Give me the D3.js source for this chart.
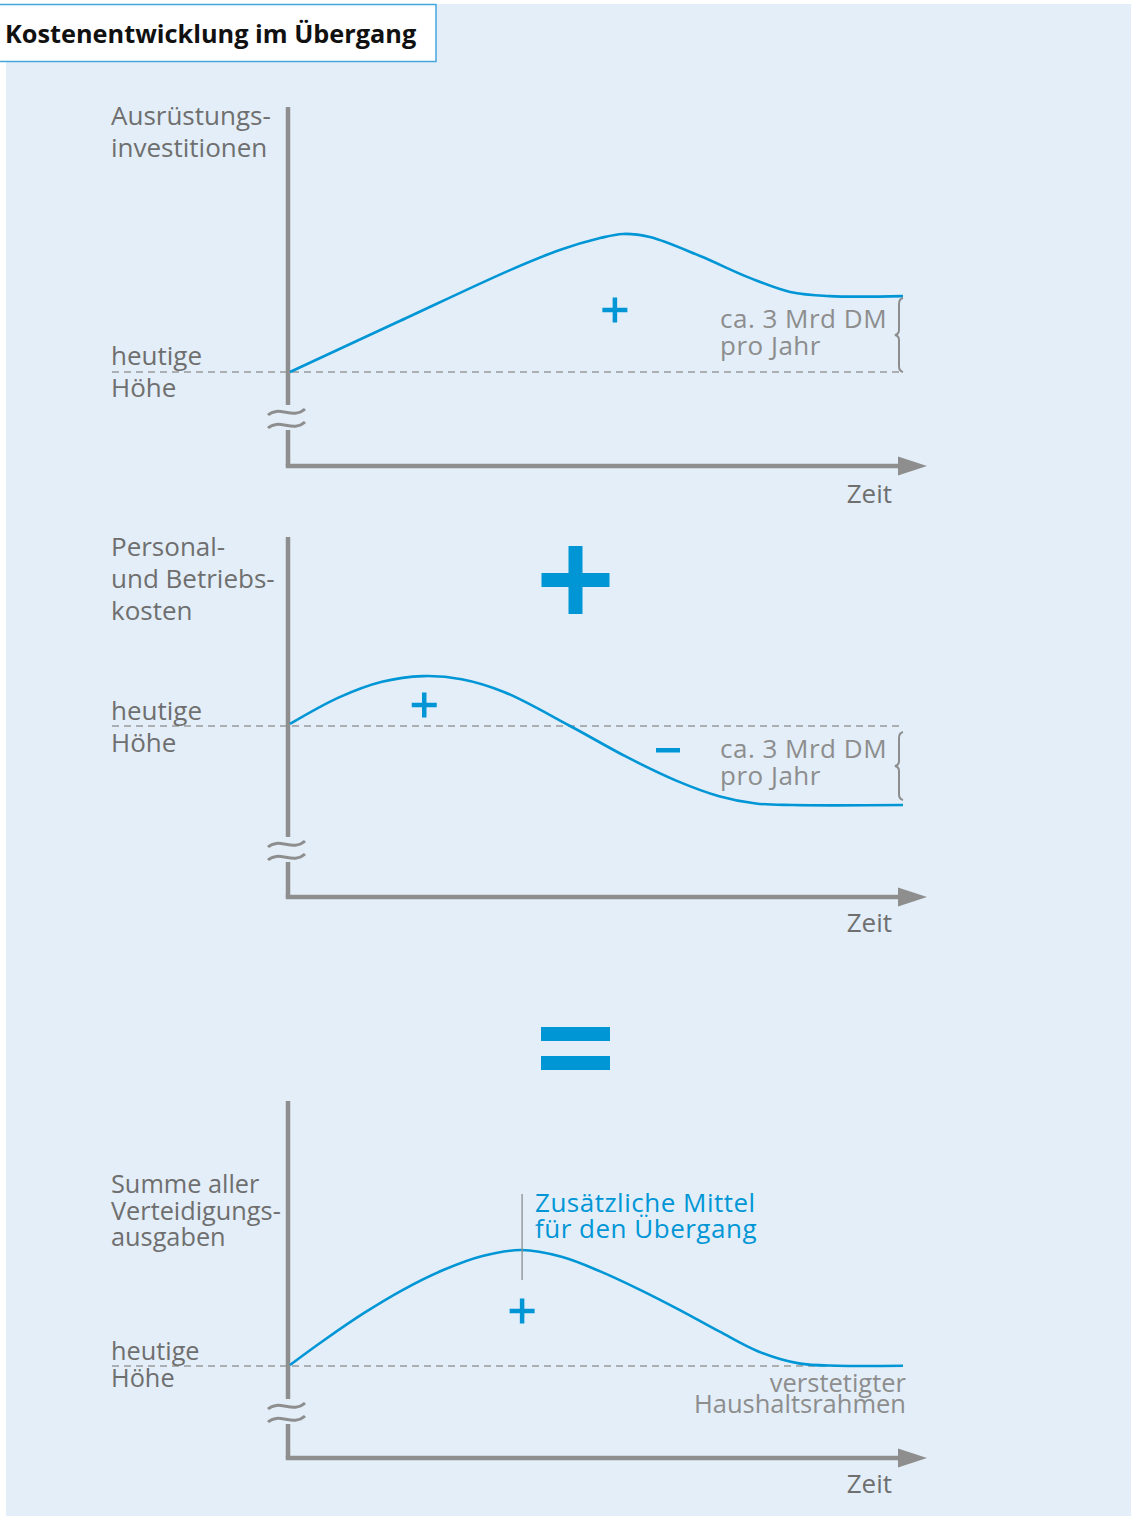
<!DOCTYPE html>
<html><head><meta charset="utf-8">
<script src="https://cdn.jsdelivr.net/npm/d3@7"></script>
<style>
html,body{margin:0;padding:0;background:#fff;}
svg{display:block;}
text{font-family:"Open Sans","Noto Sans",sans-serif;}
</style></head>
<body>
<svg id="chart" width="1131" height="1517"></svg>
<script>
// ---------- DATA ----------
const title = "Kostenentwicklung im Übergang";
const panelLabels = [
  ["Ausrüstungs-", "investitionen"],
  ["Personal-", "und Betriebs-", "kosten"],
  ["Summe aller", "Verteidigungs-", "ausgaben"]
];
const baselineLabel = ["heutige", "Höhe"];
const xAxisLabel = "Zeit";
const braceLabel = ["ca. 3 Mrd DM", "pro Jahr"];
const sumNote = ["verstetigter", "Haushaltsrahmen"];
const sumAnnotation = ["Zusätzliche Mittel", "für den Übergang"];

// time (0..100) and cost relative to today's level (Mrd DM)
const equipTime   = [0, 17.9, 35.9, 44, 50.6, 54.3, 58.7, 66.9, 75, 81.6, 88, 100];
const equipValue  = [0, 1.96, 3.92, 4.69, 5.15, 5.31, 5.19, 4.46, 3.62, 3.08, 2.92, 2.92];
const staffTime   = [0, 8, 15, 21.7, 28, 35, 45.7, 55, 63, 70, 76, 82, 100];
const staffValue  = [0.08, 1.1, 1.7, 1.92, 1.8, 1.3, 0, -1.2, -2.1, -2.7, -2.98, -3.04, -3.04];
const sumTime     = [0, 5.6, 12.1, 18.5, 25, 31.4, 37.7, 44.3, 50.7, 57.2, 63.6, 70.1, 76.5, 83, 89.4, 100];
const sumValue    = [0.04, 1.0, 2.04, 2.94, 3.69, 4.23, 4.46, 4.2, 3.63, 2.92, 2.15, 1.32, 0.55, 0.1, 0.01, 0.01];

// ---------- STYLE / LAYOUT ----------
const BG = "#e3eef8", BLUE = "#0096d6", AXIS = "#8e8e8e", LABEL = "#6f6f6f", NOTE = "#8d8d8d";
const FS = 26;
const panels = [
  {top:107, xAxisY:466, base:372, squig:418, labelY:[125,157], baseLabelY:[365,397], zeitY:503, fs:26},
  {top:537, xAxisY:897, base:726, squig:850, labelY:[556,588,620], baseLabelY:[720,752], zeitY:932, fs:26},
  {top:1101, xAxisY:1458, base:1366, squig:1412, labelY:[1193,1220,1246], baseLabelY:[1360,1387], zeitY:1493, fs:25.3}
];
const series = [
  {t:equipTime, v:equipValue},
  {t:staffTime, v:staffValue},
  {t:sumTime, v:sumValue}
];

const svg = d3.select("#chart");
svg.append("rect").attr("x",6).attr("y",4).attr("width",1125).attr("height",1512).attr("fill",BG);

// title box
svg.append("rect").attr("x",-1).attr("y",4.5).attr("width",437).attr("height",57)
  .attr("fill","#fff").attr("stroke","#45a6dc").attr("stroke-width",1.5);
svg.append("text").attr("x",5).attr("y",43).attr("font-size",25.3).attr("font-weight",700)
  .attr("fill","#111").text(title);

const x = d3.scaleLinear().domain([0,100]).range([290,903]);
const axisX = 288;

function multiline(g, lines, xPos, ys, opts){
  lines.forEach((s,i)=>{
    const t = g.append("text").attr("x",xPos).attr("y",ys[i]).attr("font-size",opts.size||FS)
      .attr("fill",opts.fill).text(s);
    if(opts.anchor) t.attr("text-anchor",opts.anchor);
    if(opts.ls) t.attr("letter-spacing",opts.ls);
  });
}

function brace(g, xPos, y0, y1){
  const m = (y0+y1)/2;
  const p = d3.path();
  p.moveTo(xPos+3, y0);
  p.quadraticCurveTo(xPos-1, y0+1, xPos-1, y0+6);
  p.lineTo(xPos-1, m-5);
  p.quadraticCurveTo(xPos-1, m-1, xPos-5, m);
  p.quadraticCurveTo(xPos-1, m+1, xPos-1, m+5);
  p.lineTo(xPos-1, y1-6);
  p.quadraticCurveTo(xPos-1, y1-1, xPos+3, y1);
  g.append("path").attr("d",p.toString()).attr("fill","none").attr("stroke",NOTE).attr("stroke-width",2);
}

function plus(g, cx, cy, half, w){
  g.append("rect").attr("x",cx-half).attr("y",cy-w/2).attr("width",2*half).attr("height",w).attr("fill",BLUE);
  g.append("rect").attr("x",cx-w/2).attr("y",cy-half).attr("width",w).attr("height",2*half).attr("fill",BLUE);
}

panels.forEach((P, i)=>{
  const g = svg.append("g");
  const y = d3.scaleLinear().domain([0,1]).range([P.base, P.base-26]);
  const s = series[i];
  const pts = s.t.map((t,k)=>[t, s.v[k]]);

  // dashed baseline
  g.append("line").attr("x1",112).attr("x2",x(100)).attr("y1",y(0)).attr("y2",y(0))
    .attr("stroke","#9a9a9a").attr("stroke-width",1.4).attr("stroke-dasharray","7,5");

  // y axis with break
  g.append("line").attr("x1",axisX).attr("x2",axisX).attr("y1",P.top).attr("y2",P.squig-13)
    .attr("stroke",AXIS).attr("stroke-width",4.5);
  g.append("line").attr("x1",axisX).attr("x2",axisX).attr("y1",P.squig+12).attr("y2",P.xAxisY)
    .attr("stroke",AXIS).attr("stroke-width",4.5);
  [-6,7].forEach(d=>{
    const yy = P.squig + d;
    g.append("path").attr("d",`M268,${yy+3} C279,${yy-7} 293,${yy+8} 305,${yy-3}`)
      .attr("fill","none").attr("stroke",AXIS).attr("stroke-width",3);
  });
  // x axis with arrow
  g.append("line").attr("x1",axisX-2.25).attr("x2",900).attr("y1",P.xAxisY).attr("y2",P.xAxisY)
    .attr("stroke",AXIS).attr("stroke-width",4.5);
  g.append("path").attr("d",`M898,${P.xAxisY-9.5} L927,${P.xAxisY} L898,${P.xAxisY+9.5} Z`).attr("fill",AXIS);

  // curve
  const line = d3.line().x(d=>x(d[0])).y(d=>y(d[1])).curve(d3.curveCatmullRom.alpha(0.5));
  g.append("path").datum(pts).attr("d",line).attr("fill","none").attr("stroke",BLUE).attr("stroke-width",2.6);

  // labels
  multiline(g, panelLabels[i], 111, P.labelY, {fill:LABEL, size:P.fs});
  multiline(g, baselineLabel, 111, P.baseLabelY, {fill:LABEL, size:P.fs});
  g.append("text").attr("x",892).attr("y",P.zeitY).attr("text-anchor","end").attr("font-size",FS)
    .attr("fill",LABEL).text(xAxisLabel);

  if(i===0){
    const endV = s.v[s.v.length-1];
    brace(g, 900, y(endV)+2, y(0));
    multiline(g, braceLabel, 720, [328,355], {fill:NOTE, ls:0.5});
    plus(g, x(53), 310, 12.5, 4.5);
  }
  if(i===1){
    const endV = s.v[s.v.length-1];
    brace(g, 900, y(0)+6, y(endV)-5);
    multiline(g, braceLabel, 720, [758,785], {fill:NOTE, ls:0.5});
    plus(g, x(21.9), 705, 12.5, 4.5);
    g.append("rect").attr("x",656).attr("y",748).attr("width",24).attr("height",4.5).attr("fill",BLUE);
  }
  if(i===2){
    const peakIdx = d3.maxIndex(s.v);
    const px = x(s.t[peakIdx]) + 1;
    g.append("line").attr("x1",px).attr("x2",px).attr("y1",1194).attr("y2",1280)
      .attr("stroke","#8e8e8e").attr("stroke-width",1.3);
    multiline(g, sumAnnotation, 535, [1212,1238], {fill:BLUE, ls:0.5});
    plus(g, px, 1311, 12.5, 4.5);
    multiline(g, sumNote, 906, [1392,1413], {fill:NOTE, anchor:"end", size:25.5});
  }
});

// big plus and equal sign
plus(svg, 575.5, 580, 34, 14);
svg.append("rect").attr("x",541).attr("y",1027).attr("width",69).attr("height",14).attr("fill",BLUE);
svg.append("rect").attr("x",541).attr("y",1056).attr("width",69).attr("height",14).attr("fill",BLUE);
</script>
</body></html>
